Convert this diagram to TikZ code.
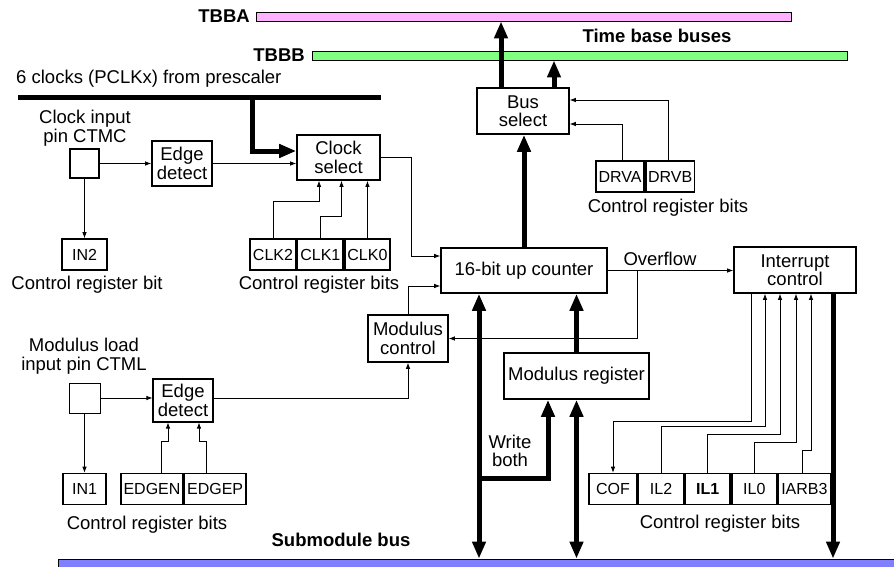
\documentclass[tikz,border=0pt]{standalone}
\usepackage{fontspec}
\setmainfont{Liberation Sans}
\usetikzlibrary{arrows.meta}

\definecolor{tbbapink}{RGB}{255,176,255}
\definecolor{tbbbgreen}{RGB}{128,255,128}
\definecolor{subblue}{RGB}{128,128,255}

\newcommand{\mfont}{\fontsize{18.5}{18.5}\selectfont}
\newcommand{\bfont}{\fontsize{16}{16}\selectfont}

\tikzset{
  blk/.style={draw, line width=1.6pt, align=center, inner sep=1pt, font=\mfont},
  bitbox/.style={draw, line width=1.6pt, minimum height=31pt, inner sep=0pt, font=\bfont},
  pinbox/.style={draw, line width=1.3pt},
  lbl/.style={align=center, inner sep=0pt, font=\mfont},
  blbl/.style={inner sep=0pt, font=\mfont\bfseries},
  busbar/.style={draw, line width=0.8pt, inner sep=0pt},
  wire/.style={line width=0.8pt, -{Latex[length=6pt,width=4.5pt]}},
  fat/.style={line width=5pt, -{Triangle[length=17pt,width=13pt]}},
  fatboth/.style={line width=5pt, {Triangle[length=17pt,width=13pt]}-{Triangle[length=17pt,width=13pt]}}
}

\begin{document}
\begin{tikzpicture}[x=1pt,y=-1pt]
\useasboundingbox (0,0) rectangle (894,566);

% buses
\node[busbar, fill=tbbapink, minimum width=535pt, minimum height=9pt] (tbba) at (523.5,16.5) {};
\node[busbar, fill=tbbbgreen, minimum width=535pt, minimum height=9pt] (tbbb) at (579.5,55.5) {};
\node[busbar, fill=subblue, minimum width=842pt, minimum height=14pt] (subbus) at (479,566) {};
\node[blbl, anchor=east] (tbbalbl) at (250,16) {TBBA};
\node[blbl, anchor=east] (tbbblbl) at (305,55) {TBBB};
\node[blbl] (tblbl) at (657,36) {Time base buses};
\node[blbl] (sublbl) at (341,540) {Submodule bus};

% prescaler clocks
\node[lbl, anchor=west] (prelbl) at (16,79) {6 clocks (PCLKx) from prescaler};
\coordinate (prew) at (18,97);
\coordinate (pree) at (381,97);
\coordinate (pretap) at (252,97);
\draw[line width=5pt] (prew) -- (pree);

% clock input side
\node[lbl] (ctmclbl) at (85,128) {Clock input\\pin CTMC};
\node[pinbox, minimum width=29pt, minimum height=29pt] (ctmc) at (84.5,163.5) {};
\node[blk, minimum width=60pt, minimum height=45pt] (edge1) at (182,163.5) {Edge\\detect};
\node[blk, minimum width=83pt, minimum height=45pt] (clksel) at (338.5,157.5) {Clock\\select};
\node[bitbox, minimum width=45pt] (in2) at (84.5,254.5) {IN2};
\node[lbl] (in2lbl) at (87,285) {Control register bit};
\node[bitbox, minimum width=46pt] (clk2) at (273,254.5) {CLK2};
\node[bitbox, minimum width=45.5pt, anchor=west] (clk1) at (clk2.east) {CLK1};
\node[bitbox, minimum width=45.5pt, anchor=west] (clk0) at (clk1.east) {CLK0};
\node[lbl] (clklbl) at (319,285) {Control register bits};

\draw[wire] (ctmc.east) -- (edge1.west);
\draw[wire] (edge1.east) -- (edge1.east -| clksel.west);
\draw[fat] (pretap) |- ([yshift=6.5pt]clksel.west);
\draw[wire] (ctmc.south) -- (in2.north);
\draw[wire] (clk2.north) -- ++(0,-37) -| ([xshift=-19.5pt]clksel.south);
\draw[wire] (clk1.north) -- ++(0,-22) -| ([xshift=3pt]clksel.south);
\draw[wire] (clk0.north) -- (clk0.north |- clksel.south);

% counter and bus select
\node[blk, minimum width=166pt, minimum height=45pt] (counter) at (524,270.5) {16-bit up counter};
\node[blk, minimum width=92pt, minimum height=46pt] (bussel) at (523,111) {Bus\\select};
\node[bitbox, minimum width=48.5pt] (drva) at (620,176.5) {DRVA};
\node[bitbox, minimum width=48.5pt, anchor=west] (drvb) at (drva.east) {DRVB};
\node[lbl] (drvlbl) at (668,208) {Control register bits};

\draw[wire] (clksel.east) -- ++(31,0) |- ([yshift=14.5pt]counter.west);
\draw[fat] (counter.north) -- (counter.north |- bussel.south);
\draw[fat] ([xshift=-22pt]bussel.north) -- ([xshift=-22pt]bussel.north |- tbba.south);
\draw[fat] ([xshift=31pt]bussel.north) -- ([xshift=31pt]bussel.north |- tbbb.south);
\draw[wire] ([xshift=2pt]drva.north) |- ([yshift=-13pt]bussel.east);
\draw[wire] ([xshift=-1.5pt]drvb.north) |- ([yshift=11pt]bussel.east);

% modulus load side
\node[lbl] (ctmllbl) at (84,356) {Modulus load\\input pin CTML};
\node[pinbox, minimum width=31pt, minimum height=30pt, line width=1pt] (ctml) at (84.5,398) {};
\node[blk, minimum width=60pt, minimum height=43pt, line width=1.1pt] (edge2) at (183,400.5) {Edge\\detect};
\node[blk, minimum width=80pt, minimum height=47pt] (modctl) at (408,338.5) {Modulus\\control};
\node[bitbox, minimum width=43pt] (in1) at (84.5,489) {IN1};
\node[bitbox, minimum width=61.5pt] (edgen) at (152,489) {EDGEN};
\node[bitbox, minimum width=61.5pt, anchor=west] (edgep) at (edgen.east) {EDGEP};
\node[lbl] (edglbl) at (147,525) {Control register bits};

\draw[wire] (ctml.east) -- (ctml.east -| edge2.west);
\draw[wire] (ctml.south) -- (in1.north);
\draw[wire] ([xshift=9pt]edgen.north) -- ++(0,-31) -| ([xshift=-15pt]edge2.south);
\draw[wire] ([xshift=-8.5pt]edgep.north) -- ++(0,-31) -| ([xshift=16pt]edge2.south);
\draw[wire] (ctml.east -| edge2.east) -| (modctl.south);
\draw[wire] (modctl.north) |- ([yshift=-15.5pt]counter.west);

% modulus register
\node[blk, minimum width=145pt, minimum height=46pt] (modreg) at (576.5,376) {Modulus register};
\coordinate (wrboth) at (479,478);
\node[lbl] (wblbl) at (510,451) {Write\\both};
\draw[fat] (modreg.north) -- (modreg.north |- counter.south);
\draw[fatboth] ([xshift=-45pt]counter.south) -- ([xshift=-45pt]counter.south |- subbus.north);
\draw[line width=5pt, -{Triangle[length=17pt,width=13pt]}] (wrboth) -| ([xshift=-28.5pt]modreg.south);
\draw[fatboth] (modreg.south) -- (modreg.south |- subbus.north);

% interrupt control
\node[blk, minimum width=122pt, minimum height=46pt] (intctl) at (795,270) {Interrupt\\control};
\node[lbl] (ovflbl) at (660,259) {Overflow};
\draw[wire] (counter.east) -- (counter.east -| intctl.west);
\draw[wire] ([xshift=30pt]counter.east) |- (modctl.east);
\draw[fat] ([xshift=38pt]intctl.south) -- ([xshift=38pt]intctl.south |- subbus.north);

\node[bitbox, minimum width=48pt] (cof) at (613,489) {COF};
\node[bitbox, minimum width=45pt, anchor=west] (il2) at (cof.east) {IL2};
\node[bitbox, minimum width=45pt, anchor=west, font=\bfont\bfseries] (il1) at (il2.east) {IL1};
\node[bitbox, minimum width=45pt, anchor=west] (il0) at (il1.east) {IL0};
\node[bitbox, minimum width=52pt, anchor=west] (iarb3) at (il0.east) {IARB3};
\node[lbl] (intlbl) at (720,524) {Control register bits};

\draw[wire] ([xshift=-44pt]intctl.south) -- ++(0,128) -| (cof.north);
\draw[wire] (il2.north) -- ++(0,-46) -| ([xshift=-30pt]intctl.south);
\draw[wire] (il1.north) -- ++(0,-38) -| ([xshift=-15pt]intctl.south);
\draw[wire] (il0.north) -- ++(0,-30) -| ([xshift=1pt]intctl.south);
\draw[wire] ([xshift=-2pt]iarb3.north) -- ++(0,-22) -| ([xshift=16pt]intctl.south);
\end{tikzpicture}
\end{document}
